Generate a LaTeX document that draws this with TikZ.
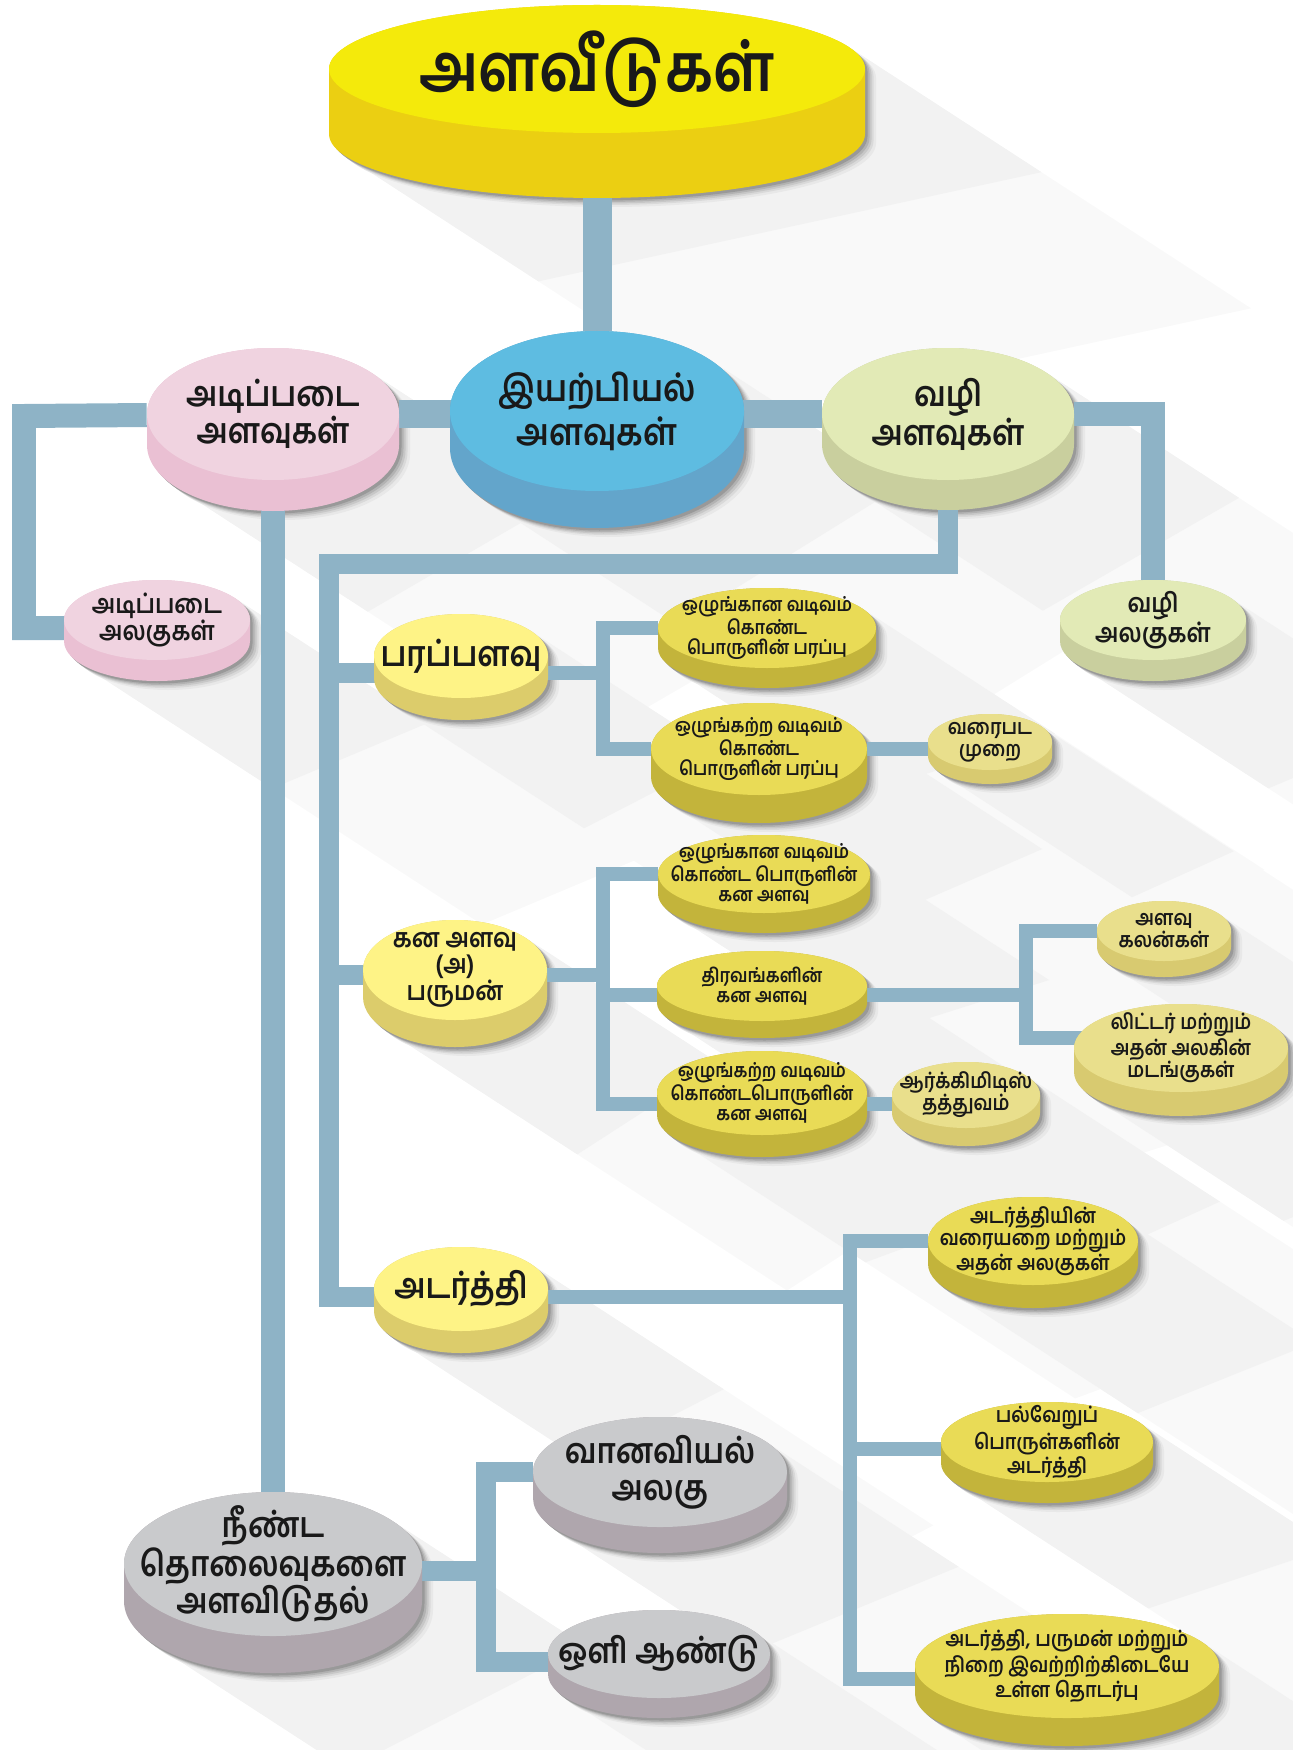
\documentclass[tikz,border=0pt]{standalone}
\usepackage{fontspec}
\newfontfamily\tamil[Script=Tamil, FakeStretch=0.88]{Hind Madurai}
\usetikzlibrary{calc,shapes.geometric}

\definecolor{conn}{HTML}{8EB3C6}
\definecolor{titletop}{HTML}{F4EA0B}\definecolor{titleside}{HTML}{EBCF12}
\definecolor{bluetop}{HTML}{5EBCE1}\definecolor{blueside}{HTML}{63A5CB}
\definecolor{pinktop}{HTML}{F0D3E0}\definecolor{pinkside}{HTML}{EAC0D3}
\definecolor{greentop}{HTML}{E2EAB6}\definecolor{greenside}{HTML}{C9CF9E}
\definecolor{lemontop}{HTML}{FEF386}\definecolor{lemonside}{HTML}{DCCC6B}
\definecolor{goldtop}{HTML}{E9DB56}\definecolor{goldside}{HTML}{C3B43B}
\definecolor{paletop}{HTML}{E9DF8C}\definecolor{paleside}{HTML}{D8CA70}
\definecolor{greytop}{HTML}{C9CACC}\definecolor{greyside}{HTML}{AFA6AD}

\pgfdeclarelayer{haze}
\pgfdeclarelayer{shade}
\pgfdeclarelayer{drop}
\pgfdeclarelayer{wire}
\pgfsetlayers{haze,shade,drop,wire,main}

% disc: name, x, y, x radius, y radius, depth, colour, font style, text
\newcommand{\disc}[9]{%
	\pgfmathsetmacro\tilt{atan(1.54*#5/#4)}
	\coordinate (#1-a) at ($(#2,#3)+(\tilt:#4 and #5)$);
	\coordinate (#1-b) at ($(#2,#3-#6)+(\tilt+180:#4 and #5)$);
	\begin{pgfonlayer}{haze}
	\fill[black!2.5] (#1-a) -- ($(#1-a)+(-33:480)$) -- ($(#1-b)+(-33:480)$) -- (#1-b) -- cycle;
	\end{pgfonlayer}
	\begin{pgfonlayer}{shade}
	\fill[black!5] (#1-a) -- ($(#1-a)+(-33:230)$) -- ($(#1-b)+(-33:230)$) -- (#1-b) -- cycle;
	\end{pgfonlayer}
	\begin{pgfonlayer}{drop}
	\foreach \dx/\dy/\tone in {11/9/9, 8.5/7/15, 6.5/5.5/22, 4.5/4/30, 2.5/2.5/40}{
		\fill[black!\tone, shift={(\dx,-\dy)}]
		(#2-#4,#3) -- (#2-#4,#3-#6)
		arc[start angle=180, end angle=360, x radius=#4, y radius=#5]
		-- (#2+#4,#3)
		arc[start angle=0, end angle=180, x radius=#4, y radius=#5] -- cycle;
	}
	\end{pgfonlayer}
	\fill[#7side]
	(#2-#4,#3) -- (#2-#4,#3-#6)
	arc[start angle=180, end angle=360, x radius=#4, y radius=#5]
	-- (#2+#4,#3)
	arc[start angle=0, end angle=180, x radius=#4, y radius=#5] -- cycle;
	\node[disc, fill=#7top, minimum width={2*#4*0.02cm}, minimum height={2*#5*0.02cm},
	label={[#8, align=center, text=black!90]center:{#9}}] (#1) at (#2,#3) {};
}

\begin{document}
\begin{tikzpicture}[x=0.02cm, y=0.02cm,
	disc/.style={ellipse, inner sep=0pt},
	titlefont/.style={font=\tamil\bfseries\fontsize{38}{42}\selectfont},
	bigfont/.style={font=\tamil\bfseries\fontsize{21}{25}\selectfont},
	midfont/.style={font=\tamil\bfseries\fontsize{20}{21}\selectfont},
	smallfont/.style={font=\tamil\bfseries\fontsize{15}{14.5}\selectfont},
	notefont/.style={font=\tamil\bfseries\fontsize{12}{12.6}\selectfont},
	tinyfont/.style={font=\tamil\bfseries\fontsize{11}{11.4}\selectfont},
	bar/.style={draw=conn, line width=0.58cm},
	stem/.style={draw=conn, line width=0.48cm},
	twig/.style={draw=conn, line width=0.40cm},
	sprig/.style={draw=conn, line width=0.27cm},
	]
	\useasboundingbox (0,0) rectangle (1292,-1750);
	
	\disc{top}{597}{-69}{268}{64}{65}{title}{titlefont}{அளவீடுகள்}
	\disc{phys}{597}{-411}{147}{80}{37}{blue}{bigfont}{இயற்பியல்\\அளவுகள்}
	\disc{base}{273}{-414}{126}{66}{31}{pink}{midfont}{அடிப்படை\\அளவுகள்}
	\disc{deriv}{948}{-414}{126}{66}{30}{green}{midfont}{வழி\\அளவுகள்}
	\disc{bunit}{157}{-620}{93}{40}{21}{pink}{smallfont}{அடிப்படை\\அலகுகள்}
	\disc{dunit}{1153}{-620}{93}{40}{21}{green}{smallfont}{வழி\\அலகுகள்}
	
	\disc{area}{461}{-656}{87}{42}{22}{lemon}{midfont}{பரப்பளவு}
	\disc{p1}{767}{-628}{109}{40}{20}{gold}{tinyfont}{ஒழுங்கான வடிவம்\\கொண்ட\\பொருளின் பரப்பு}
	\disc{p2}{759}{-749}{108}{46}{28}{gold}{tinyfont}{ஒழுங்கற்ற வடிவம்\\கொண்ட\\பொருளின் பரப்பு}
	\disc{graph}{990}{-742}{62}{28}{14}{pale}{notefont}{வரைபட\\முறை}
	
	\disc{vol}{455}{-970}{92}{50}{27}{lemon}{smallfont}{கன அளவு\\(அ)\\பருமன்}
	\disc{v1}{764}{-874}{106}{39}{20}{gold}{tinyfont}{ஒழுங்கான வடிவம்\\கொண்ட பொருளின்\\கன அளவு}
	\disc{v2}{762}{-986}{105}{35}{17}{gold}{tinyfont}{திரவங்களின்\\கன அளவு}
	\disc{v3}{762}{-1093}{105}{42}{22}{gold}{tinyfont}{ஒழுங்கற்ற வடிவம்\\கொண்டபொருளின்\\கன அளவு}
	\disc{arch}{966}{-1095}{74}{33}{18}{pale}{notefont}{ஆர்க்கிமிடிஸ்\\தத்துவம்}
	\disc{cup}{1164}{-931}{67}{30}{16}{pale}{notefont}{அளவு\\கலன்கள்}
	\disc{litre}{1181}{-1048}{107}{44}{24}{pale}{notefont}{லிட்டர் மற்றும்\\அதன் அலகின்\\மடங்குகள்}
	
	\disc{dens}{461}{-1289}{87}{42}{22}{lemon}{midfont}{அடர்த்தி}
	\disc{d1}{1033}{-1241}{105}{44}{23}{gold}{notefont}{அடர்த்தியின்\\வரையறை மற்றும்\\அதன் அலகுகள்}
	\disc{d2}{1047}{-1442}{106}{40}{21}{gold}{notefont}{பல்வேறுப்\\பொருள்களின்\\அடர்த்தி}
	\disc{d3}{1067}{-1666}{152}{52}{28}{gold}{notefont}{அடர்த்தி, பருமன் மற்றும்\\நிறை இவற்றிற்கிடையே\\உள்ள தொடர்பு}
	
	\disc{far}{273}{-1564}{149}{72}{37}{grey}{midfont}{நீண்ட\\தொலைவுகளை\\அளவிடுதல்}
	\disc{au}{660}{-1472}{127}{55}{26}{grey}{midfont}{வானவியல்\\அலகு}
	\disc{ly}{659}{-1654}{111}{44}{20}{grey}{midfont}{ஒளி ஆண்டு}
	
	% connectors, behind the discs
	\coordinate (jl) at (24,-416);
	\coordinate (jy) at (329,-564);
	\coordinate (ja) at (603,-673);
	\coordinate (jv) at (603,-975);
	\coordinate (jk) at (870,-1104);
	\coordinate (jc) at (1026,-995);
	\coordinate (jd) at (850,-1297);
	\coordinate (jf) at (486,-1571);
	\begin{pgfonlayer}{wire}
	\draw[bar] (top) -- (phys);
	\draw[bar] (base) -- (deriv);
	\draw[stem] (base) -- (jl) |- ([yshift=-0.16cm]bunit.center);
	\draw[stem] (deriv) -| (dunit);
	\draw[stem] (base) -- (far);
	\draw[twig] (deriv) |- (jy) |- (dens |- jd);
	\draw[twig] (jy) |- (area |- ja);
	\draw[twig] (jy) |- (vol |- jv);
	\draw[sprig] (area |- ja) -- (ja) |- (p1);
	\draw[sprig] (ja) |- (p2);
	\draw[sprig] (p2) -- (p2 -| graph);
	\draw[sprig] (vol |- jv) -- (jv) |- (v1);
	\draw[sprig] (jv) |- (v2 |- jc);
	\draw[sprig] (jv) |- (arch |- jk);
	\draw[sprig] (v2 |- jc) -- (jc) |- (cup);
	\draw[sprig] (jc) |- ([yshift=0.2cm]litre.center);
	\draw[sprig] (dens |- jd) -- (jd) |- (d1);
	\draw[sprig] (jd) |- ([yshift=-0.14cm]d2.center);
	\draw[sprig] (jd) |- ([yshift=-0.26cm]d3.center);
	\draw[twig] (far |- jf) -- (jf) |- (au);
	\draw[twig] (jf) |- ([yshift=-0.16cm]ly.center);
	\end{pgfonlayer}
\end{tikzpicture}
\end{document}
